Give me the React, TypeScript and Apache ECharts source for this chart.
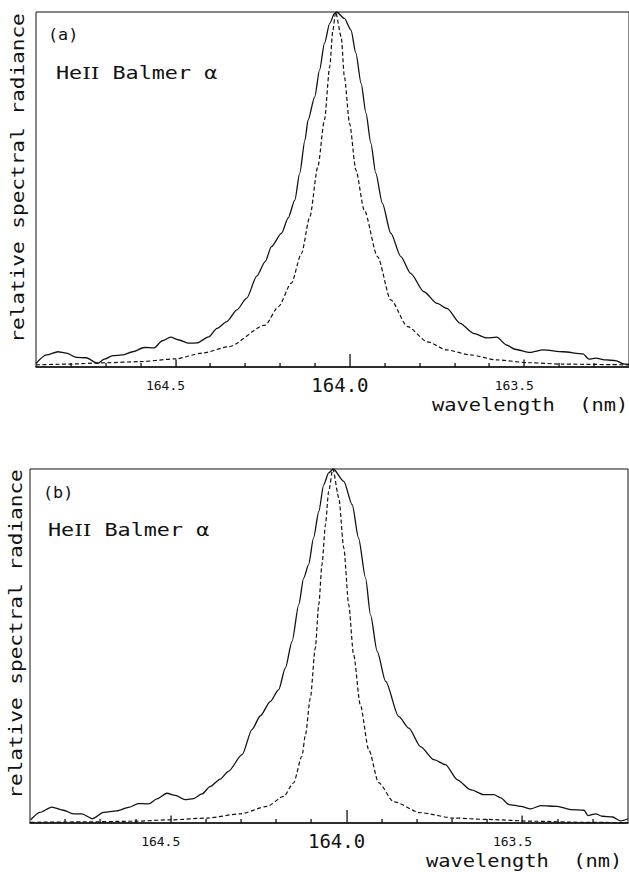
import React, { useEffect, useRef } from "react";
import * as echarts from "echarts";

// ---- axis range / ticks (wavelength, nm; axis runs from long to short wavelength) ----
const X_MIN = 163.2;
const X_MAX = 164.9;
const tickLabels = [164.5, 164.0, 163.5];
const halfTicks = [164.5, 163.5];
const centreTick = [164.0];
const minorTicks = [164.8, 164.7, 164.6, 164.4, 164.3, 164.2, 164.1, 163.9, 163.8, 163.7, 163.6, 163.4, 163.3];

// ---- panel (a) ----
const aSolidWl = [164.900, 164.870, 164.837, 164.813, 164.784, 164.756, 164.723, 164.704, 164.680, 164.652, 164.623, 164.590, 164.561, 164.538, 164.514, 164.490, 164.462, 164.438, 164.405, 164.381, 164.353, 164.324, 164.296, 164.267, 164.243, 164.225, 164.196, 164.177, 164.158, 164.144, 164.129, 164.120, 164.101, 164.087, 164.073, 164.058, 164.044, 164.038, 164.016, 163.997, 163.983, 163.968, 163.954, 163.940, 163.926, 163.907, 163.883, 163.854, 163.826, 163.788, 163.750, 163.722, 163.684, 163.646, 163.608, 163.579, 163.551, 163.527, 163.484, 163.446, 163.389, 163.332, 163.315, 163.295, 163.266, 163.238, 163.214, 163.200];
const aSolidVal = [0.010, 0.034, 0.043, 0.039, 0.027, 0.026, 0.010, 0.022, 0.032, 0.034, 0.043, 0.055, 0.054, 0.074, 0.084, 0.076, 0.067, 0.068, 0.085, 0.109, 0.128, 0.161, 0.194, 0.256, 0.297, 0.339, 0.377, 0.420, 0.470, 0.546, 0.639, 0.696, 0.761, 0.837, 0.912, 0.968, 0.996, 1.000, 0.982, 0.949, 0.884, 0.799, 0.715, 0.630, 0.546, 0.461, 0.377, 0.311, 0.264, 0.212, 0.179, 0.165, 0.123, 0.095, 0.082, 0.084, 0.062, 0.050, 0.041, 0.048, 0.043, 0.037, 0.022, 0.025, 0.020, 0.018, 0.008, 0.008];
const aDashWl = [164.900, 164.813, 164.699, 164.604, 164.500, 164.424, 164.348, 164.243, 164.205, 164.168, 164.139, 164.115, 164.092, 164.073, 164.058, 164.049, 164.041, 164.025, 164.016, 164.001, 163.983, 163.959, 163.921, 163.883, 163.835, 163.778, 163.722, 163.655, 163.579, 163.484, 163.389, 163.200];
const aDashVal = [0.006, 0.008, 0.012, 0.015, 0.023, 0.039, 0.057, 0.118, 0.170, 0.236, 0.320, 0.423, 0.564, 0.696, 0.846, 0.949, 1.000, 0.930, 0.818, 0.686, 0.555, 0.442, 0.311, 0.189, 0.114, 0.071, 0.048, 0.034, 0.020, 0.012, 0.008, 0.006];

// ---- panel (b) ----
const bSolidWl = [164.898, 164.872, 164.838, 164.805, 164.777, 164.753, 164.722, 164.691, 164.653, 164.620, 164.592, 164.563, 164.539, 164.511, 164.487, 164.459, 164.435, 164.411, 164.388, 164.359, 164.336, 164.297, 164.269, 164.245, 164.217, 164.193, 164.174, 164.155, 164.136, 164.122, 164.108, 164.094, 164.079, 164.065, 164.051, 164.038, 164.008, 163.984, 163.966, 163.946, 163.932, 163.913, 163.889, 163.852, 163.823, 163.790, 163.752, 163.719, 163.685, 163.648, 163.610, 163.581, 163.562, 163.538, 163.505, 163.477, 163.448, 163.401, 163.363, 163.325, 163.314, 163.292, 163.273, 163.244, 163.221, 163.200];
const bSolidVal = [0.009, 0.030, 0.045, 0.036, 0.026, 0.026, 0.012, 0.030, 0.034, 0.044, 0.055, 0.054, 0.068, 0.084, 0.078, 0.066, 0.069, 0.082, 0.103, 0.124, 0.146, 0.193, 0.264, 0.303, 0.343, 0.377, 0.438, 0.513, 0.617, 0.692, 0.730, 0.805, 0.880, 0.956, 0.989, 1.000, 0.965, 0.899, 0.805, 0.692, 0.588, 0.485, 0.400, 0.301, 0.268, 0.216, 0.179, 0.165, 0.122, 0.094, 0.080, 0.080, 0.071, 0.052, 0.047, 0.040, 0.049, 0.047, 0.038, 0.036, 0.021, 0.026, 0.019, 0.017, 0.006, 0.012];
const bDashWl = [164.898, 164.748, 164.606, 164.497, 164.397, 164.302, 164.226, 164.179, 164.151, 164.127, 164.117, 164.103, 164.089, 164.079, 164.070, 164.060, 164.051, 164.039, 164.022, 164.008, 163.994, 163.980, 163.961, 163.937, 163.909, 163.866, 163.790, 163.695, 163.600, 163.467, 163.334, 163.200];
const bDashVal = [0.002, 0.003, 0.005, 0.009, 0.014, 0.026, 0.047, 0.075, 0.113, 0.188, 0.249, 0.353, 0.494, 0.617, 0.730, 0.843, 0.937, 1.000, 0.918, 0.777, 0.617, 0.475, 0.334, 0.207, 0.114, 0.060, 0.029, 0.014, 0.010, 0.005, 0.002, 0.001];

// ---- texts ----
const panelLabels = ["(a)", "(b)"];
const lineName = "He{r|II} Balmer α";
const yTitle = "relative spectral radiance";
const xTitle = "wavelength  (nm)";

const MONO = '"DejaVu Sans Mono", "Liberation Mono", monospace';
const SERIF = '"DejaVu Serif", "Liberation Serif", serif';
const INK = "#111";

function zip(xs: number[], ys: number[]) {
  const n = Math.min(xs.length, ys.length);
  const out: number[][] = [];
  for (let i = 0; i < n; i++) out.push([xs[i], ys[i]]);
  return out;
}

// tick kinds: 0 minor, 1 half-nm, 2 centre
const TICK_LEN = [4, 7.5, 13];
const tickData = [
  ...minorTicks.map((v) => [v, 0]),
  ...halfTicks.map((v) => [v, 1]),
  ...centreTick.map((v) => [v, 2]),
];

function tickSeries(xi: number, yi: number) {
  return {
    type: "custom",
    name: "ticks",
    xAxisIndex: xi,
    yAxisIndex: yi,
    silent: true,
    clip: false,
    z: 10,
    data: tickData,
    renderItem: (params: any, api: any) => {
      const v = api.value(0);
      const len = TICK_LEN[api.value(1)] || 4;
      const p = api.coord([v, 0]);
      return {
        type: "rect",
        shape: { x: Math.round(p[0]) - 0.6, y: p[1] - len, width: 1.3, height: len },
        style: { fill: INK },
      };
    },
  };
}

function xAxisFor(gridIndex: number) {
  return {
    type: "value",
    gridIndex,
    min: X_MIN,
    max: X_MAX,
    inverse: true,
    position: "bottom",
    splitLine: { show: false },
    axisLine: { show: true, onZero: false, lineStyle: { color: INK, width: 1.5 } },
    axisTick: { show: false },
    axisLabel: {
      show: true,
      customValues: tickLabels,
      margin: 10,
      padding: [0, 20, 0, 0],
      formatter: (v: number) =>
        Math.abs(v - 164) < 1e-6 ? "{big|" + v.toFixed(1) + "}" : "{s|" + v.toFixed(1) + "}",
      rich: {
        s: { fontFamily: MONO, fontSize: 13, lineHeight: 16, color: INK },
        big: { fontFamily: MONO, fontSize: 19, lineHeight: 16, color: INK },
      },
    },
  };
}

function texts(
  labelX: number, labelY: number, nameX: number, nameY: number,
  yTitleX: number, yTitleY: number, xTitleX: number, xTitleY: number, label: string
) {
  const t = (text: string, x: number, y: number, size: number, sx: number, align: string, rot = 0) => ({
    type: "text",
    x,
    y,
    rotation: rot,
    scaleX: sx,
    silent: true,
    style: {
      text,
      fill: INK,
      fontFamily: MONO,
      fontSize: size,
      align,
      verticalAlign: "middle",
      textAlign: align,
      textVerticalAlign: "middle",
      rich: {
        r: { fontFamily: SERIF, fontSize: size, fill: INK },
      },
    },
  });
  return [
    t(label, labelX, labelY, 16, 1.05, "left"),
    t(lineName, nameX, nameY, 17, 1.28, "left"),
    t(yTitle, yTitleX, yTitleY, 17, 1.24, "center", Math.PI / 2),
    t(xTitle, xTitleX, xTitleY, 17, 1.2, "left"),
  ];
}

export default function App() {
  const ref = useRef<HTMLDivElement>(null);

  useEffect(() => {
    if (!ref.current) return;
    const chart = echarts.init(ref.current, undefined, { renderer: "svg" });

    const solid = { color: INK, width: 1.3, type: "solid" };
    const dashed = { color: INK, width: 1.2, type: [4, 2.5] };
    const mk = (data: number[][], xi: number, yi: number, ls: any, name: string) => ({
      type: "line",
      name,
      xAxisIndex: xi,
      yAxisIndex: yi,
      data,
      showSymbol: false,
      symbol: "none",
      smooth: 0.25,
      smoothMonotone: "x",
      lineStyle: ls,
      silent: true,
    });

    chart.setOption({
      animation: false,
      backgroundColor: "#ffffff",
      grid: [
        { left: 36, top: 12, width: 597, height: 355, show: true, borderColor: INK, borderWidth: 1, containLabel: false },
        { left: 30, top: 469, width: 598, height: 354, show: true, borderColor: INK, borderWidth: 1, containLabel: false },
      ],
      xAxis: [xAxisFor(0), xAxisFor(1)],
      yAxis: [
        { type: "value", gridIndex: 0, min: 0, max: 1, show: false },
        { type: "value", gridIndex: 1, min: 0, max: 1, show: false },
      ],
      series: [
        mk(zip(aSolidWl, aSolidVal), 0, 0, solid, "(a) measured"),
        mk(zip(aDashWl, aDashVal), 0, 0, dashed, "(a) reference"),
        mk(zip(bSolidWl, bSolidVal), 1, 1, solid, "(b) measured"),
        mk(zip(bDashWl, bDashVal), 1, 1, dashed, "(b) reference"),
        tickSeries(0, 0),
        tickSeries(1, 1),
      ],
      graphic: [
        ...texts(48, 35, 56, 73, 18, 178, 432, 405, panelLabels[0]),
        ...texts(43, 493, 48, 530, 16, 634, 426, 861, panelLabels[1]),
      ],
    });

    return () => chart.dispose();
  }, []);

  return (
    <div
      ref={ref}
      style={{ position: "absolute", left: 0, top: 0, width: 629, height: 872, background: "#fff" }}
    />
  );
}
